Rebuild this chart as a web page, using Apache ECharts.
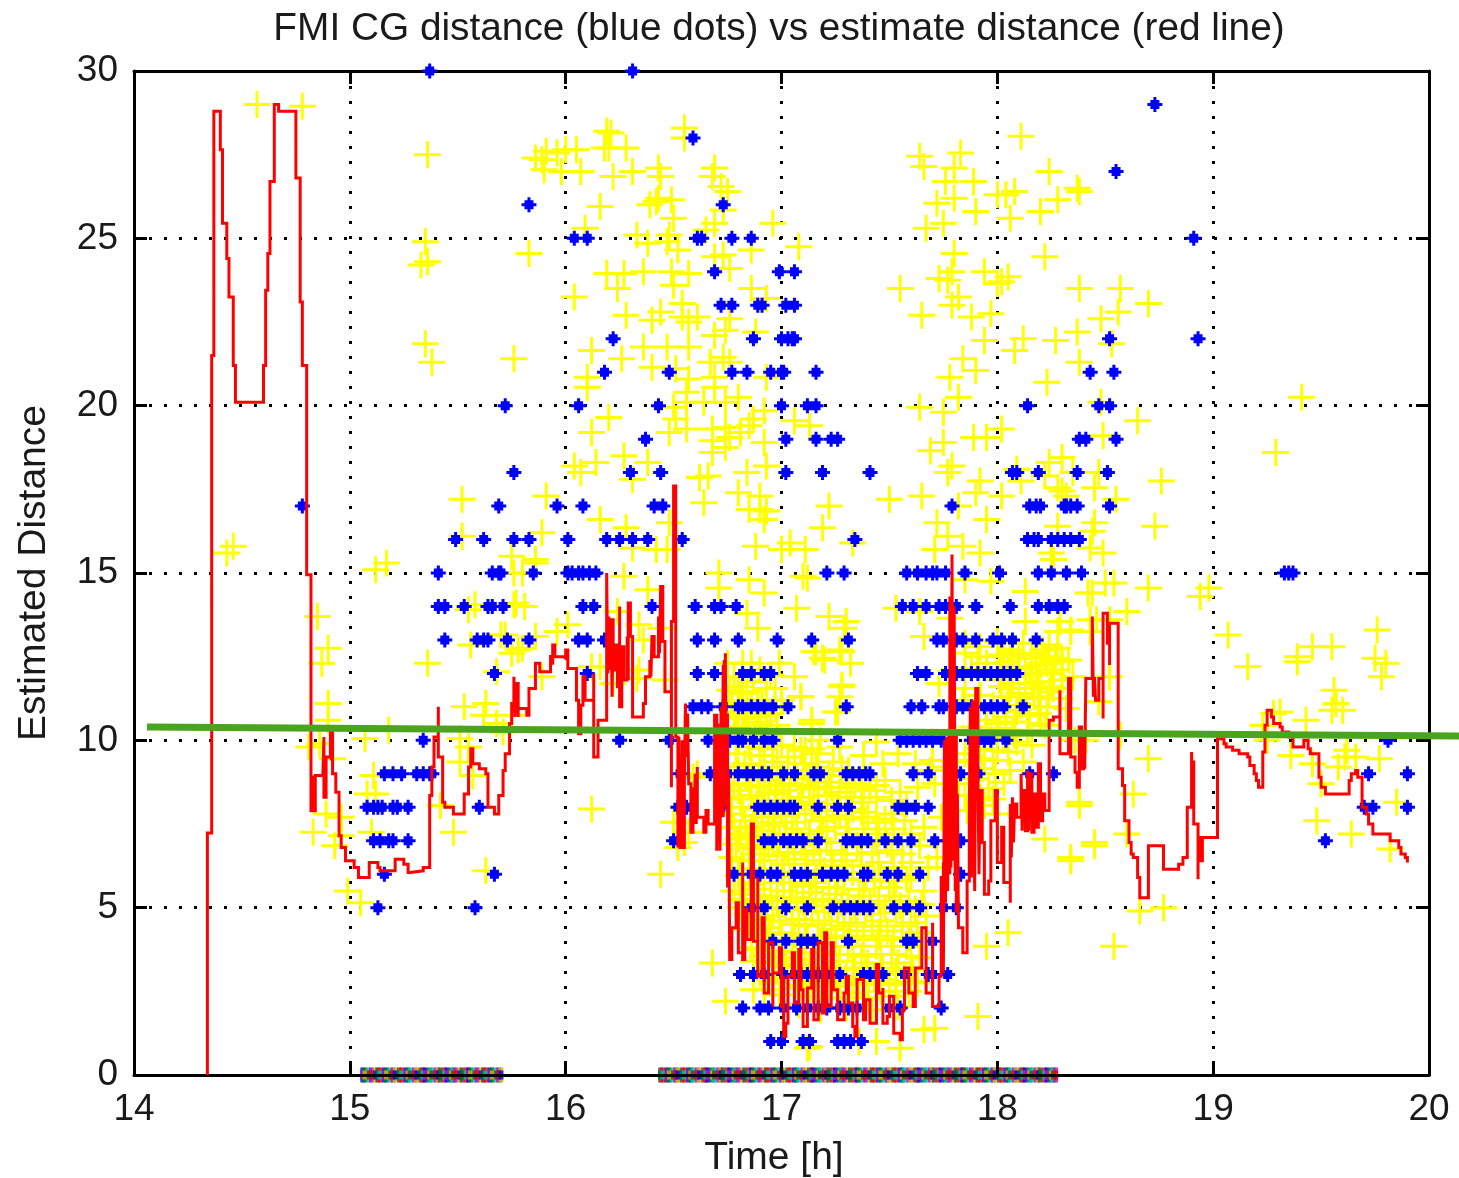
<!DOCTYPE html>
<html>
<head>
<meta charset="utf-8">
<style>html,body{margin:0;background:#fff}#chart{width:1459px;height:1178px}</style>
<script src="https://cdn.jsdelivr.net/npm/echarts@6/dist/echarts.min.js"></script>
</head>
<body>
<div id="chart"></div>
<script>
// estimate distance, in time order
const estimate = [[14.34,0],[14.34,7.23],[14.36,7.23],[14.36,21.5],[14.37,21.5],[14.37,28.8],[14.4,28.8],[14.4,27.65],[14.41,27.65],[14.41,25.45],[14.43,25.45],[14.43,24.4],[14.44,24.4],[14.44,23.25],[14.46,23.25],[14.46,21.2],[14.47,21.2],[14.47,20.1],[14.6,20.1],[14.6,21.2],[14.61,21.2],[14.61,23.45],[14.62,23.45],[14.62,24.55],[14.63,24.55],[14.63,26.7],[14.65,26.7],[14.65,29],[14.67,28.8],[14.75,28.8],[14.75,26.8],[14.77,26.8],[14.77,23.1],[14.78,23.1],[14.78,21.2],[14.8,21.2],[14.8,14.95],[14.82,14.95],[14.82,7.85],[14.825,8.95],[14.83,7.85],[14.835,8.95],[14.84,7.85],[14.84,8.95],[14.875,9],[14.88,10.1],[14.88,8.3],[14.89,9.5],[14.91,10.3],[14.915,9.4],[14.92,10.3],[14.92,9],[14.935,8.45],[14.95,7.15],[14.96,6.8],[14.98,6.4],[15.02,6.2],[15.04,5.9],[15.09,5.9],[15.09,6.35],[15.13,6.2],[15.14,6.1],[15.2,6.1],[15.21,6.45],[15.25,6.3],[15.27,6.05],[15.28,6.1],[15.34,6.2],[15.37,6.35],[15.37,8.35],[15.38,9.2],[15.39,10.1],[15.41,11],[15.41,9.5],[15.43,9.5],[15.43,8.15],[15.44,8],[15.48,7.8],[15.51,7.8],[15.53,8.4],[15.55,8.5],[15.55,9.2],[15.56,9.75],[15.57,9.3],[15.6,9.15],[15.63,9],[15.64,8.4],[15.64,8],[15.66,8],[15.67,7.8],[15.69,7.8],[15.69,8.35],[15.71,9.1],[15.72,9.6],[15.74,10.5],[15.75,11.1],[15.76,11.9],[15.765,10.7],[15.77,11.7],[15.78,10.7],[15.78,10.95],[15.81,10.95],[15.82,10.75],[15.83,11.55],[15.86,11.6],[15.86,12.3],[15.88,12.05],[15.92,12.05],[15.93,12.55],[15.93,12.3],[15.94,12.85],[15.95,12.5],[15.99,12.45],[16,12.7],[16.01,12.15],[16.04,12.15],[16.05,11.2],[16.06,10.2],[16.07,11.05],[16.08,11.9],[16.09,11.2],[16.13,10.6],[16.13,12],[16.13,9.5],[16.15,9.5],[16.15,10.6],[16.19,10.75],[16.19,15],[16.195,12],[16.2,13.7],[16.205,12.1],[16.21,13.65],[16.215,11.3],[16.22,13.65],[16.22,12.1],[16.23,12.85],[16.24,11.6],[16.25,14],[16.25,11],[16.26,12.8],[16.27,11.8],[16.285,13.1],[16.29,11.8],[16.29,14.1],[16.3,13.1],[16.31,11.35],[16.31,10.7],[16.36,10.7],[16.36,11.1],[16.37,11.9],[16.39,12.4],[16.395,11.9],[16.4,13.1],[16.41,12.5],[16.43,13.7],[16.435,12.6],[16.44,14.6],[16.45,12.95],[16.46,11.45],[16.48,11.45],[16.49,8.6],[16.49,13.55],[16.5,17.6],[16.51,13.6],[16.51,10.1],[16.52,6.8],[16.525,10.1],[16.53,6.8],[16.54,10],[16.54,6.8],[16.55,8.9],[16.555,11.1],[16.56,9.5],[16.565,10.8],[16.57,8.7],[16.58,7.25],[16.59,8.6],[16.595,7.5],[16.6,9],[16.605,7.5],[16.61,9.2],[16.61,7.7],[16.64,7.25],[16.65,7.9],[16.66,7.5],[16.69,8],[16.69,10.75],[16.7,6.7],[16.705,10.5],[16.71,8.5],[16.715,6.7],[16.72,11],[16.725,8],[16.73,12.25],[16.73,7.7],[16.735,12.4],[16.74,8],[16.74,12.6],[16.745,8.5],[16.75,10.8],[16.75,5.6],[16.755,9],[16.76,3.45],[16.77,4.4],[16.79,5.15],[16.8,3.65],[16.82,6.35],[16.82,3.45],[16.83,4.95],[16.84,4.05],[16.86,7.5],[16.87,6.5],[16.87,4],[16.89,5.9],[16.89,2.95],[16.91,4.7],[16.92,2.45],[16.94,3.95],[16.96,2.05],[16.96,3.05],[16.99,3.8],[17,2.05],[17.01,2.95],[17.01,1.15],[17.02,1.55],[17.03,2.95],[17.05,3.65],[17.06,2.15],[17.08,3.75],[17.09,2.55],[17.1,1.45],[17.12,2.6],[17.14,3.75],[17.15,1.65],[17.17,3.95],[17.19,1.85],[17.2,4.25],[17.21,2.05],[17.23,3.95],[17.24,2.55],[17.26,1.65],[17.28,1.65],[17.29,2.45],[17.3,2.95],[17.31,2.15],[17.33,1.45],[17.34,1.15],[17.35,2.85],[17.38,1.65],[17.39,2.25],[17.41,1.55],[17.44,3.3],[17.45,2.45],[17.47,2.6],[17.47,1.55],[17.49,1.75],[17.5,2.35],[17.52,1.25],[17.55,1.05],[17.56,1.95],[17.57,3.2],[17.59,2.45],[17.61,2.05],[17.62,3.2],[17.65,4.4],[17.67,2.45],[17.7,4.55],[17.7,2.05],[17.73,2.95],[17.74,5.9],[17.75,6.35],[17.75,3.05],[17.755,10],[17.76,5.15],[17.765,10.1],[17.77,5.5],[17.775,10.2],[17.78,6],[17.78,14.3],[17.785,6.2],[17.79,15.55],[17.795,6.4],[17.8,14],[17.805,5.5],[17.81,10.3],[17.81,4.85],[17.815,8.4],[17.82,4.4],[17.84,3.65],[17.86,5.8],[17.87,7.7],[17.875,11],[17.88,5.9],[17.885,11.2],[17.89,9.4],[17.895,5.5],[17.9,11.55],[17.91,9],[17.915,6],[17.92,8.5],[17.93,6.95],[17.94,5.4],[17.96,5.8],[17.97,7.6],[17.99,8.5],[18,6.35],[18.02,7.4],[18.03,5.75],[18.06,5.15],[18.06,8.1],[18.065,6.5],[18.07,8.3],[18.075,6.95],[18.08,8.1],[18.09,7.7],[18.11,9],[18.115,7.3],[18.12,8.5],[18.13,7.3],[18.14,9.1],[18.145,7.3],[18.15,9],[18.16,7.25],[18.17,8.4],[18.18,7.4],[18.19,9.3],[18.2,7.6],[18.21,8.4],[18.22,7.9],[18.24,7.9],[18.24,10.6],[18.26,10.7],[18.29,11.5],[18.29,9.6],[18.33,11.85],[18.34,9.5],[18.36,9.05],[18.37,8.6],[18.38,10.4],[18.39,9.15],[18.4,10.3],[18.405,9.15],[18.41,11.85],[18.44,13.7],[18.445,11.3],[18.45,11.9],[18.455,11.2],[18.47,11.85],[18.49,10.65],[18.49,13.8],[18.51,13.8],[18.51,12.9],[18.52,12.25],[18.52,13.5],[18.56,13.5],[18.56,9.75],[18.56,9.15],[18.58,8.65],[18.59,7.6],[18.61,6.95],[18.62,6.6],[18.63,6.5],[18.65,5.9],[18.66,5.3],[18.7,5.3],[18.7,6.85],[18.76,6.85],[18.77,6.4],[18.77,6.15],[18.83,6.15],[18.84,6.3],[18.86,6.5],[18.88,6.5],[18.88,8],[18.9,9.65],[18.905,8],[18.91,9.4],[18.91,7.5],[18.93,5.85],[18.93,7.1],[18.94,6.4],[18.95,7.1],[19.02,7.1],[19.02,10.05],[19.05,9.9],[19.06,9.8],[19.09,9.7],[19.12,9.6],[19.16,9.5],[19.17,9.25],[19.19,9],[19.2,8.8],[19.21,8.6],[19.23,9],[19.23,9.65],[19.24,10.45],[19.25,10.9],[19.27,10.7],[19.28,10.5],[19.31,10.4],[19.32,10.25],[19.35,10.1],[19.37,9.8],[19.42,9.8],[19.42,10],[19.44,9.75],[19.45,9.6],[19.48,9.6],[19.49,9.4],[19.49,8.9],[19.5,8.6],[19.52,8.4],[19.62,8.4],[19.63,8.8],[19.64,9],[19.66,9.1],[19.67,8.9],[19.69,8.35],[19.69,8],[19.71,7.8],[19.72,7.5],[19.74,7.2],[19.81,7.2],[19.82,7],[19.85,7],[19.86,6.8],[19.87,6.6],[19.89,6.5],[19.9,6.35]];

const trend = [[14.06,10.4],[20.14,10.13]];

// FMI CG distance is whole metres, one list of times per distance
const fmi1 = [16.95,17,17.1,17.13,17.26,17.29,17.32,17.37];
const fmi2 = [16.82,16.9,16.94,17.01,17.07,17.12,17.17,17.21,17.27,17.31,17.35,17.5,17.55,17.74];
const fmi3 = [16.81,16.87,16.92,17.01,17.06,17.09,17.12,17.17,17.21,17.27,17.38,17.41,17.44,17.47,17.57,17.68,17.7,17.77];
const fmi4 = [16.96,17.02,17.09,17.12,17.15,17.31,17.58,17.61,17.7];
const fmi5 = [15.13,15.58,16.86,16.92,17.02,17.12,17.24,17.29,17.32,17.35,17.38,17.41,17.52,17.58,17.64,17.75,17.81];
const fmi6 = [15.16,15.67,16.78,16.86,16.9,16.95,16.98,17.06,17.09,17.12,17.19,17.23,17.26,17.29,17.38,17.4,17.49,17.54,17.64,17.83];
const fmi7 = [15.11,15.14,15.18,15.2,15.27,16.5,16.92,16.96,17.01,17.04,17.07,17.1,17.17,17.3,17.33,17.37,17.4,17.48,17.54,17.6,17.71,17.77,17.83,19.52];
const fmi8 = [15.08,15.11,15.13,15.15,15.2,15.22,15.27,15.6,16.52,16.56,16.72,16.89,16.92,16.95,16.98,17.01,17.04,17.06,17.17,17.26,17.31,17.54,17.58,17.62,17.68,19.7,19.74,19.9];
const fmi9 = [15.16,15.2,15.24,15.31,15.34,15.37,15.38,16.53,16.67,16.75,16.8,16.84,16.87,16.91,16.94,17.01,17.06,17.15,17.18,17.3,17.33,17.36,17.39,17.41,17.61,17.68,17.83,17.91,18.15,18.26,19.72,19.9];
const fmi10 = [15.34,16.25,16.48,16.66,16.72,16.76,16.8,16.82,16.87,16.92,16.96,17.26,17.55,17.58,17.61,17.64,17.67,17.7,17.74,17.88,17.91,17.94,17.97,18.04,19.81];
const fmi11 = [16.59,16.63,16.66,16.73,16.8,16.82,16.86,16.89,16.92,16.96,17.03,17.3,17.6,17.65,17.73,17.75,17.81,17.84,17.88,17.94,17.97,18,18.03,18.12];
const fmi12 = [15.67,16.1,16.61,16.69,16.82,16.86,16.92,16.95,17.63,17.67,17.76,17.81,17.84,17.88,17.91,17.94,17.97,18,18.03,18.06,18.09];
const fmi13 = [15.44,15.59,15.62,15.64,15.73,15.83,16.06,16.1,16.18,16.61,16.69,16.8,16.98,17.14,17.31,17.72,17.75,17.81,17.84,17.9,17.98,18.02,18.07,18.18];
const fmi14 = [15.41,15.44,15.53,15.64,15.66,15.71,16.08,16.13,16.4,16.6,16.69,16.72,16.79,17.56,17.61,17.67,17.73,17.76,17.81,17.9,18.06,18.19,18.24,18.28,18.31];
const fmi15 = [15.41,15.66,15.69,15.7,15.85,16.01,16.03,16.06,16.08,16.11,16.14,17.21,17.29,17.58,17.63,17.67,17.7,17.72,17.76,17.85,18.01,18.19,18.25,18.32,18.39,19.33,19.35,19.37];
const fmi16 = [15.49,15.62,15.76,15.83,16.01,16.19,16.25,16.31,16.38,16.54,17.34,18.14,18.17,18.19,18.25,18.28,18.31,18.34,18.38];
const fmi17 = [14.78,15.69,15.96,16.08,16.41,16.45,17.79,18.15,18.18,18.2,18.31,18.32,18.34,18.37,18.52];
const fmi18 = [15.76,16.3,16.44,17.02,17.19,17.41,18.07,18.09,18.19,18.37,18.51];
const fmi19 = [16.37,17.02,17.16,17.23,17.26,18.38,18.41,18.55];
const fmi20 = [15.72,16.06,16.43,17,17.12,17.16,18.14,18.47,18.52];
const fmi21 = [16.18,16.48,16.77,16.84,16.95,17,17.01,17.16,18.43,18.54];
const fmi22 = [16.22,16.87,17,17.03,17.05,17.06,18.52,18.93];
const fmi23 = [16.72,16.77,16.89,16.91,17.02,17.06];
const fmi24 = [16.69,16.99,17.06];
const fmi25 = [16.04,16.1,16.61,16.63,16.77,16.86,18.91];
const fmi26 = [15.83,16.73];
const fmi27 = [18.55];
const fmi28 = [16.59];
const fmi29 = [18.73];
const fmi30 = [15.37,16.31];
const fmiRows = [fmi1,fmi2,fmi3,fmi4,fmi5,fmi6,fmi7,fmi8,fmi9,fmi10,fmi11,fmi12,fmi13,fmi14,fmi15,fmi16,fmi17,fmi18,fmi19,fmi20,fmi21,fmi22,fmi23,fmi24,fmi25,fmi26,fmi27,fmi28,fmi29,fmi30];

// yellow crosses, read region by region
const crossesLeft = [[14.57,29],[14.78,28.95],[15.36,27.5],[15.35,24.9],[15.33,24.2],[15.36,24.3],[15.35,21.85],[15.38,21.3],[15.83,24.55],[15.76,21.4],[15.86,27.4],[15.89,27.35],[15.91,27.6],[15.9,27.05],[14.43,15.6],[14.46,15.8],[15.52,17.2],[15.52,16.1],[15.91,17.3],[15.89,16.2],[15.75,15.5],[15.86,15.4],[15.17,15.3],[15.12,15.1],[15.76,15],[15.8,15],[15.86,15.3],[15.58,14.05],[15.55,13.9],[15.76,14.05],[15.77,14.1],[15.81,14],[15.56,12.85],[15.7,13.15],[15.72,13.15],[15.78,12.7],[15.8,12.75],[15.75,12.6],[15.86,13.1],[15.36,12.3],[15.68,12.05],[14.9,12.75],[14.87,12.3],[14.85,13.7],[14.9,11.1],[14.9,10.6],[15.53,11],[15.63,11.1],[15.62,10.75],[15.68,10.5],[15.71,10.25],[15.75,10.75],[15.89,11.9],[15.07,10.05],[15.18,10.3],[15.51,10.05],[15.55,9.8],[15.51,9.35],[15.57,8.95],[14.81,9.8],[14.86,9.9],[14.92,9.45],[15.11,8.95],[15.08,8.4],[15.12,8.4],[14.89,7.8],[14.96,7.7],[14.83,7.25],[14.96,7.15],[14.93,6.85],[15.42,8.05],[15.48,7.25],[15.1,7.25],[15.63,6.1],[14.99,5.5],[15.05,5.15]];
const crossesUpperMid = [[16.19,28.2],[16.21,28.15],[16.2,27.7],[16.18,27.7],[16.28,27.7],[16.55,28.3],[16.55,28],[16,27.65],[16.05,27.65],[15.96,27.55],[15.98,27],[16.07,27],[16.22,26.85],[16.31,27],[16.43,27.1],[16.44,26.85],[16.69,27.1],[16.68,26.85],[16.72,26.55],[16.75,26.4],[16.16,25.95],[16.09,25.3],[16.33,25.1],[16.38,24.85],[16.43,26.2],[16.42,26.1],[16.39,26],[16.49,26.15],[16.5,25.6],[16.48,25.1],[16.47,24.9],[16.52,24.65],[16.65,25.25],[16.69,25.45],[16.73,25.85],[16.73,24.5],[16.69,24.45],[16.76,24.1],[16.86,24.65],[16.96,25.45],[17.08,24.75],[16.19,23.95],[16.27,23.95],[16.24,23.5],[16.36,24],[16.49,24],[16.57,23.95],[16.5,23.6],[16.04,23.25],[16.86,23.5],[16.93,23.2],[16.54,23.05],[16.54,22.65],[16.61,22.65],[16.57,22.5],[16.28,22.7],[16.4,22.55],[16.44,22.8],[16.76,22.6],[16.74,22.25],[16.69,22.1],[16.88,22.2],[16.36,21.75],[16.47,21.75],[16.57,21.75],[16.12,21.65],[16.26,21.4],[16.4,21.15],[16.51,21.1],[16.67,21.3],[16.73,21.45],[16.76,21.3],[16.93,20.85],[16.1,20.85],[16.1,20.55],[16.57,20.8],[16.69,20.85],[16.56,20.4],[16.69,20.55],[16.8,20.25],[16.2,19.65],[16.5,19.95],[16.56,20.1],[16.64,20.1],[16.74,20.1],[16.92,19.85],[16.87,19.6],[16.51,19.6],[16.12,19.2],[16.48,19.2],[16.56,19.3],[16.68,19.3],[16.68,18.95],[16.74,19.35],[16.76,19.05],[16.81,19.2],[16.85,19.4],[17.06,19.55],[17.13,19.4],[16.92,18.9],[16.27,18.5],[16.04,18.2],[16.07,18],[16.14,18.3],[16.38,18.3],[16.68,18.6],[16.74,18.75],[16.66,17.9],[16.62,17.85],[16.93,18.2],[16.84,18],[16.31,17.8],[16.8,17.4],[16.9,17.3],[16.9,16.9],[16.85,16.9],[16.93,16.85],[16.92,16.6],[16.64,17.1],[17.22,17],[17.5,17.2],[17.65,17.3],[16.16,16.6],[16.28,16.35],[16.48,16.5],[16.31,15.75],[16.42,15.7],[16.47,15.7],[16.88,15.8],[17.04,15.9],[17.19,16.35],[17.33,15.9],[17,15.7],[17.11,15.7]];
const crossesUpperRight = [[17.64,27.45],[17.66,27.15],[17.83,27.55],[17.8,27.1],[17.76,26.7],[17.89,26.7],[17.72,26.05],[17.8,26.2],[17.75,25.45],[17.67,25.3],[17.9,25.8],[18,26.3],[17.8,24.55],[17.79,24],[17.73,23.8],[17.77,23.75],[17.94,24],[18,23.65],[17.55,23.5],[17.82,23.25],[17.79,23],[17.65,22.7],[17.88,22.65],[17.97,22.75],[17.94,21.95],[17.84,21.4],[17.9,21.05],[17.78,20.85],[17.82,20.25],[17.64,19.95],[17.75,19.8],[17.75,18.9],[17.69,18.65],[17.89,19.05],[17.95,19.05],[17.77,18],[17.79,18.2],[17.92,17.75],[17.82,17],[17.9,17.4],[17.95,16.6],[17.72,16.5],[17.77,16.1],[17.92,15.6],[17.84,15.8],[17.71,15.7],[18.11,28.05],[18.24,27],[18.37,26.5],[18.38,26.4],[18.04,26.3],[18.08,26.4],[18.28,26.15],[18.2,25.8],[18.06,25.6],[18.22,24.45],[18.05,23.85],[18.02,23.7],[18.38,23.5],[18.57,23.5],[18.7,23.05],[18.56,22.8],[18.48,22.6],[18.12,22],[18.37,22.2],[18.27,21.95],[18.08,21.65],[18.53,21.85],[18.38,21.3],[18.23,20.7],[18.48,20.1],[18.65,19.55],[18.49,19.1],[18.02,19.3],[18.3,18.45],[18.24,18.3],[18.09,18.1],[18.22,17.9],[18.47,18],[18.35,18],[18.11,17.75],[18.28,17.55],[18.3,17.45],[18.45,17.55],[18.76,17.75],[18.02,17.3],[18.32,17.3],[18.55,17.2],[18.28,16.4],[18.45,16.5],[18.73,16.4],[18.44,16.25],[18.43,15.75],[18.49,15.6],[18.25,15.6],[18.26,15.4],[19.41,20.25],[19.29,18.6]];
const crossesLowerRight = [[18.98,14.55],[18.94,14.3],[18.7,14.55],[18.54,14.7],[18.6,13.85],[19.07,13.15],[19.16,12.2],[19.46,12.8],[19.55,12.8],[19.39,12.5],[19.39,12.35],[19.76,13.3],[19.75,12.45],[19.8,12.3],[19.78,11.9],[19.56,11.5],[19.57,11.1],[19.55,10.9],[19.6,10.9],[19.31,10.85],[19.28,10.8],[19.23,10.45],[19.43,10.6],[19.25,10],[19.36,9.55],[19.46,9.3],[19.62,9.7],[19.61,9.5],[19.66,9.5],[19.77,9.45],[19.58,9.2],[19.5,8.7],[19.48,7.6],[19.85,8.15],[19.64,7.2],[19.82,6.75],[18.7,9.45],[18.63,8.4],[18.38,8.05],[18.6,7.2],[18.45,6.85],[18.34,6.4],[18.66,4.9],[18.77,5],[18.54,3.85],[18.5,14.7],[18.44,14.4],[18.42,14.4],[18.43,13.6],[18.46,13.6],[18.52,13.6],[18.28,13.25],[18.34,13.25],[18.43,13.25],[18.27,12.45],[18.3,12.35],[18.35,11.9],[18.52,11.9],[18.25,11.6],[18.47,11.15],[18.32,10.95],[18.36,10],[18.41,10],[18.57,10.15],[18.13,14.45],[17.85,14.8],[17.97,14.75],[17.12,14.85],[17.22,13.7],[17.3,13.55],[17.29,13.35],[17.53,13.95],[17.64,13.85],[17.78,13.65],[18.13,13.55],[18.29,13.55],[18.34,13.3],[17.66,13.1],[17.91,12.5],[17.85,12.6],[18.07,12.6],[18.22,12.5],[17.19,12.45],[17.27,12.7],[17.32,12.3],[17.15,12.65],[17.28,11.6],[17.73,11.7],[17.85,11.55],[18.07,11.7],[18.16,11.7],[18.25,12],[18.3,12.4],[17.14,10.6],[17.26,10.85],[17.09,11.3],[17.44,9.95],[18.07,10.25],[18,10.5],[18.04,10.7],[18.19,10.8],[18.38,8.15],[18.22,7.05],[18.34,6.5],[18.45,6.95],[17.95,3.85],[18.05,4.25],[17.91,1.75],[17.71,1.4],[17.66,1.35],[17.44,1],[17.55,0.8],[17.36,1],[17.13,0.85]];
const crossesMid = [[16.12,7.95],[16.44,6],[16.74,2.2],[16.68,3.35],[16.87,2.55],[17.12,0.8],[16.52,6.8],[16.55,6.95],[16.5,7.55],[16.57,7.25],[16.61,9],[16.59,8.9],[16.71,15],[16.85,14.8],[16.92,14.4],[16.71,14.55],[16.27,14.9],[16.38,14.5],[16.01,13.45],[15.96,13.25],[16.34,13.45],[16.36,13],[16.44,13.35],[16.24,13.85],[16.16,12.2],[16.12,12.2],[16.34,12.1],[16.22,11.7],[16.33,11.85],[16.46,11.8],[16.86,12.3],[16.99,12.3],[16.75,12.3],[17.06,11.9],[16.93,11.55],[16.8,11.6],[17.07,13.95],[16.89,13.35],[16.84,13.8],[17.1,14.9],[17.28,12.65],[17.2,12.4],[17.16,12.65],[17.28,11.65],[17.09,11.3],[17.27,11.3],[17.25,10.85],[17.14,10.5],[17.11,9.7],[17.09,9.7],[17.18,10],[17.27,9.8]];
const crossesCore = [[16.79,10.4],[16.85,10.1],[16.93,10.2],[16.79,9.6],[16.83,9.3],[16.9,9.55],[16.96,9.2],[17.03,9.5],[17.1,9.3],[17.17,9.6],[17.24,9.35],[17.31,9.1],[17.38,9.55],[17.47,9.3],[17.54,9.6],[17.62,9.3],[17.69,9.1],[16.78,8.7],[16.84,8.9],[16.89,8.6],[16.95,8.8],[17.01,8.5],[17.07,8.85],[17.13,8.55],[17.2,8.75],[17.27,8.45],[17.34,8.7],[17.41,8.5],[17.48,8.8],[17.55,8.45],[17.63,8.6],[17.71,8.7],[16.77,7.8],[16.83,7.6],[16.88,7.95],[16.94,7.7],[17,7.9],[17.05,7.55],[17.11,7.8],[17.18,7.6],[17.24,7.9],[17.3,7.65],[17.37,7.85],[17.44,7.55],[17.51,7.8],[17.57,7.6],[17.66,7.4],[17.74,7.7],[16.79,6.9],[16.84,7.1],[16.9,6.75],[16.96,6.95],[17.03,6.65],[17.09,6.9],[17.15,6.7],[17.21,6.95],[17.28,6.6],[17.35,6.85],[17.42,6.65],[17.49,6.9],[17.56,6.6],[17.64,6.85],[17.72,6.5],[16.8,5.95],[16.86,5.7],[16.92,6.05],[16.98,5.75],[17.04,5.95],[17.1,5.65],[17.16,5.9],[17.22,5.6],[17.29,5.85],[17.36,5.55],[17.43,5.8],[17.5,5.6],[17.58,5.85],[17.66,5.5],[16.84,4.8],[16.9,5.05],[16.96,4.75],[17.02,4.95],[17.08,4.65],[17.14,4.9],[17.2,4.6],[17.26,4.85],[17.32,4.55],[17.39,4.8],[17.46,4.6],[17.53,4.85],[17.6,4.55],[17.67,4.75],[16.86,3.8],[16.93,4.05],[16.99,3.7],[17.05,3.95],[17.11,3.65],[17.18,3.9],[17.24,3.6],[17.31,3.85],[17.37,3.55],[17.44,3.85],[17.51,3.6],[17.58,3.85],[17.64,3.5],[16.9,3],[16.96,2.75],[17.03,3.05],[17.1,2.7],[17.16,2.95],[17.23,2.65],[17.3,2.95],[17.36,2.7],[17.43,2.95],[17.5,2.7],[17.57,3],[17.63,2.75],[16.78,11.9],[16.82,11.4],[16.87,11.75],[16.91,11.2],[16.97,11.55],[16.8,10.85],[16.86,11.1],[16.95,10.8],[17,11.2],[17.85,12.9],[17.92,12.8],[18,12.95],[18.06,12.7],[18.12,12.9],[18.18,12.6],[18.24,12.85],[17.8,12.1],[17.88,12.15],[17.95,12.3],[18.02,12.05],[18.09,12.2],[18.15,11.95],[18.2,12.25],[18.26,12.1],[17.84,11.2],[17.92,11.35],[17.98,11.05],[18.05,11.3],[18.11,11.05],[18.17,11.3],[18.23,11],[18.29,11.25],[17.88,10.4],[17.95,10.6],[18.01,10.35],[18.08,10.55],[18.14,10.3],[18.2,10.5],[17.85,9.6],[17.92,9.75],[17.98,9.4],[18.05,9.65],[18.12,9.35],[17.82,8.7],[17.9,8.85],[17.96,8.55],[18.03,8.75],[17.86,7.9],[17.94,8.05],[18,7.8]];
// saturated part of the cloud, the crosses run together here so these are estimates
const crossesSolid = [[16.76,11.5],[16.81,11.15],[16.84,11.45],[16.89,11.1],[16.93,10.75],[16.78,10.7],[16.83,10.65],[16.88,10.7],[16.98,10.45],[16.75,9.2],[16.8,9.1],[16.86,9.25],[16.92,9],[16.98,9.35],[17,8.95],[17.06,9.1],[17.12,8.95],[17.16,9.2],[17.22,8.95],[17.28,9.15],[16.76,8.3],[16.81,8.25],[16.86,8.35],[16.92,8.2],[16.97,8.4],[17.03,8.2],[17.09,8.3],[17.15,8.15],[17.21,8.35],[17.26,8.1],[17.32,8.3],[17.38,8.15],[17.44,8.3],[17.51,8.2],[17.58,8.1],[16.78,7.4],[16.81,7.2],[16.86,7.4],[16.91,7.3],[16.97,7.45],[17.02,7.2],[17.07,7.35],[17.13,7.2],[17.19,7.3],[17.25,7.4],[17.31,7.2],[17.38,7.35],[17.45,7.2],[17.52,7.35],[17.6,7.2],[16.77,6.5],[16.82,6.4],[16.87,6.6],[16.92,6.4],[16.98,6.55],[17.01,6.3],[17.06,6.45],[17.12,6.3],[17.18,6.4],[17.24,6.25],[17.3,6.4],[17.37,6.25],[17.45,6.35],[17.52,6.2],[17.6,6.35],[17.68,6.2],[16.78,5.5],[16.83,5.4],[16.89,5.55],[16.95,5.35],[17.01,5.5],[17.07,5.3],[17.13,5.45],[17.19,5.25],[17.25,5.4],[17.31,5.2],[17.38,5.35],[17.45,5.2],[17.52,5.35],[17.59,5.2],[17.65,5.1],[16.81,5],[16.87,4.95],[16.93,5],[16.99,4.6],[17.05,4.5],[17.11,4.45],[17.17,4.5],[17.23,4.35],[17.29,4.45],[17.35,4.3],[17.42,4.45],[17.49,4.3],[17.56,4.45],[17.63,4.25],[16.83,4.35],[16.88,4.4],[16.94,4.4],[16.87,3.4],[16.91,3.55],[16.97,3.35],[17.02,3.5],[17.08,3.3],[17.14,3.45],[17.2,3.25],[17.27,3.4],[17.34,3.2],[17.4,3.35],[17.47,3.2],[17.54,3.35],[17.61,3.15],[16.92,2.55],[16.99,2.4],[17.06,2.6],[17.13,2.35],[17.2,2.5],[17.27,2.3],[17.33,2.45],[17.4,2.3],[17.46,2.5],[17.53,2.35],[17.59,2.5],[17.08,2.1],[17.18,1.95],[17.3,2],[17.42,1.95],[17.54,2.05],[18.02,11.6],[18.07,11.9],[18.13,11.55],[18.19,11.75],[18.24,11.45],[18.3,11.8],[18.03,12.5],[18.1,12.55],[18.16,12.45],[18.21,12.7],[18.04,10.9],[18.09,10.85],[18.15,10.75],[18.22,10.45],[17.97,10.05],[18.03,10],[18.09,9.95],[18.16,9.85],[17.87,9],[17.93,9.15],[17.99,9],[18.06,9.1]];
const crossesDeep = [[16.8,8.5],[16.85,8.65],[16.9,8.8],[16.94,8.45],[16.98,8.65],[17.04,8.7],[17.1,8.65],[17.17,8.6],[17.23,8.6],[17.3,8.6],[17.37,8.6],[17.44,8.65],[16.82,8],[16.87,7.75],[16.91,8.05],[16.96,7.55],[17.02,7.75],[17.08,8.05],[17.14,7.95],[17.21,7.7],[17.27,7.75],[17.33,7.95],[17.4,7.7],[17.48,7.65],[16.8,7.05],[16.85,6.8],[16.89,7.15],[16.94,6.85],[16.99,7.05],[17.05,7.05],[17.11,6.6],[17.17,7.05],[17.23,6.7],[17.3,6.95],[17.37,6.6],[17.44,6.95],[17.51,6.7],[16.81,6.15],[16.85,6],[16.9,6.15],[16.95,6.05],[17,6.05],[17.05,5.75],[17.11,6.05],[17.14,5.75],[17.2,6.1],[17.26,5.85],[17.33,6.05],[17.39,5.85],[17.46,6],[17.53,5.8],[17.6,5.95],[16.81,5.25],[16.86,5.2],[16.92,5.3],[16.98,5.2],[17.04,5.2],[17.1,5.15],[17.16,5.2],[17.22,5.05],[17.28,5.15],[17.34,5],[17.41,5.1],[17.48,5],[17.55,5.05],[17.62,4.95],[16.85,4.55],[16.91,4.65],[16.95,4.2],[17,4.25],[17.06,4.2],[17.12,4.15],[17.19,4.15],[17.25,4.1],[17.31,4.15],[17.38,4.05],[17.45,4.15],[17.52,4.05],[17.59,4.1],[16.89,3.75],[16.95,3.7],[17.01,3.25],[17.07,3.65],[17.13,3.2],[17.2,3.65],[17.26,3.15],[17.33,3.6],[17.39,3.1],[17.46,3.6],[17.53,3.1],[17.6,3.55],[16.94,2.85],[17,2.95],[17.07,2.85],[17.13,2.8],[17.2,2.85],[17.26,2.75],[17.33,2.85],[17.4,2.75],[17.46,2.85],[17.53,2.75],[17.6,2.8],[16.82,10.3],[16.88,10.45],[16.91,10.05],[16.96,9.85],[16.8,9.95],[16.85,9.8],[16.92,9.75],[17,9.85],[17.06,9.8],[17.14,9.75],[16.82,12.3],[16.9,12.1],[16.95,11.95],[16.77,11.1],[16.84,10.9],[16.9,10.55],[16.97,10.95],[17.85,8.35],[17.92,8.3],[17.98,8.25],[17.7,9.4],[17.76,9.2],[17.8,9.35],[17.88,9.4],[17.94,9.45],[18,9.7],[18.08,10.15],[18.14,10.75],[18.2,11.25],[18.26,11.55],[18.33,12.4],[18.01,11.8],[18.06,11.55],[18.1,11.4],[18.13,12.15],[18.18,12],[18.23,12.3],[18.28,12.75],[18.05,12.35],[18.01,12.55]];

// the coloured marks sitting on the time axis
const bandTimes = [15.06,15.07,15.09,15.1,15.12,15.13,15.14,15.16,15.17,15.19,15.2,15.21,15.23,15.24,15.26,15.27,15.28,15.3,15.31,15.33,15.34,15.35,15.37,15.38,15.4,15.41,15.42,15.44,15.45,15.47,15.48,15.49,15.51,15.52,15.54,15.55,15.56,15.58,15.59,15.61,15.62,15.63,15.65,15.66,15.68,15.69,15.7,
16.44,16.45,16.47,16.48,16.5,16.51,16.52,16.54,16.55,16.57,16.58,16.59,16.61,16.62,16.64,16.65,16.66,16.68,16.69,16.71,16.72,16.73,16.75,16.76,16.78,16.79,16.8,16.82,16.83,16.85,16.86,16.87,16.89,16.9,16.92,16.93,16.94,16.96,16.97,16.99,17,17.01,17.03,17.04,17.06,17.07,17.08,17.1,17.11,17.13,17.14,17.15,17.17,17.18,17.2,17.21,17.22,17.24,17.25,17.27,17.28,17.29,17.31,17.32,17.34,17.35,17.36,17.38,17.39,17.41,17.42,17.43,17.45,17.46,17.48,17.49,17.5,17.52,17.53,17.55,17.56,17.57,17.59,17.6,17.62,17.63,17.64,17.66,17.67,17.69,17.7,17.71,17.73,17.74,17.76,17.77,17.78,17.8,17.81,17.83,17.84,17.85,17.87,17.88,17.9,17.91,17.92,17.94,17.95,17.97,17.98,17.99,18.01,18.02,18.04,18.05,18.06,18.08,18.09,18.11,18.12,18.13,18.15,18.16,18.18,18.19,18.2,18.22,18.23,18.25,18.26,18.27];
const bandColors = ['#0000ff','#008000','#00bfbf','#bf00bf','#bfbf00','#404040','#ff0000'];

const fontName = '"Liberation Sans", Arial, sans-serif';
const plusPath = 'path://M-13.5 -1.5H-1.5V-13.5H1.5V-1.5H13.5V1.5H1.5V13.5H-1.5V1.5H-13.5Z';
const dotPath = 'path://M-1.5 -7.5H1.5V-4.5H4.5V-1.5H7.5V1.5H4.5V4.5H1.5V7.5H-1.5V4.5H-4.5V1.5H-7.5V-1.5H-4.5V-4.5H-1.5Z';

let fmiPoints = [];
fmiRows.forEach((row, i) => row.forEach(t => fmiPoints.push([t, i + 1])));
const crossPoints = crossesLeft.concat(crossesUpperMid, crossesUpperRight, crossesLowerRight, crossesMid, crossesCore, crossesSolid, crossesDeep);

const myChart = echarts.init(document.getElementById('chart'), null, { renderer: 'canvas' });

const frameLine = { show: true, onZero: false, lineStyle: { color: '#000', width: 3 } };
const innerTick = { show: true, inside: true, length: 13, lineStyle: { color: '#000', width: 3 } };
const dots = { show: true, showMinLine: false, showMaxLine: false, lineStyle: { color: '#000', width: 3, type: [3, 12] } };
const tickText = { color: '#1a1a1a', fontSize: 37, fontFamily: fontName };
const nameText = { color: '#1a1a1a', fontSize: 39, fontFamily: fontName };

const option = {
  backgroundColor: '#fff',
  animation: false,
  title: {
    text: 'FMI CG distance (blue dots) vs estimate distance (red line)',
    left: 774, top: 5, textAlign: 'center',
    textStyle: { color: '#1a1a1a', fontSize: 38.8, fontWeight: 'normal', fontFamily: fontName }
  },
  grid: [
    { left: 134, right: 30, top: 71, bottom: 103, outerBoundsMode: 'none' },
    { left: 134, right: 0, top: 71, bottom: 103, outerBoundsMode: 'none' }   // trend runs past the frame
  ],
  xAxis: [{
    type: 'value', min: 14, max: 20, interval: 1, z: 1,
    name: 'Time [h]', nameLocation: 'middle', nameGap: 64,
    nameTextStyle: Object.assign({ padding: [0, 15, 0, 0] }, nameText),
    axisLine: frameLine, axisTick: innerTick, splitLine: dots,
    axisLabel: Object.assign({ margin: 16 }, tickText)
  }, {
    type: 'value', position: 'top', min: 14, max: 20, interval: 1, z: 1,
    axisLine: frameLine, axisTick: innerTick, splitLine: { show: false }, axisLabel: { show: false }
  }, {
    type: 'value', gridIndex: 1, min: 14, max: 20.14, show: false
  }],
  yAxis: [{
    type: 'value', min: 0, max: 30, interval: 5, z: 1,
    name: 'Estimated Distance', nameLocation: 'middle', nameGap: 80,
    nameTextStyle: nameText,
    axisLine: frameLine, axisTick: innerTick, splitLine: dots,
    axisLabel: Object.assign({ margin: 16, padding: [9, 0, 0, 0] }, tickText)
  }, {
    type: 'value', position: 'right', min: 0, max: 30, interval: 5, z: 1,
    axisLine: frameLine, axisTick: innerTick, splitLine: { show: false }, axisLabel: { show: false }
  }, {
    type: 'value', gridIndex: 1, min: 0, max: 30, show: false
  }],
  series: [{
    type: 'scatter', name: 'band', z: 0, silent: true, clip: false,
    symbol: 'rect', symbolSize: [5, 15],
    data: bandTimes.map((t, i) => ({ value: [t, 0], itemStyle: { color: bandColors[i % bandColors.length] } }))
  }, {
    type: 'scatter', name: 'band inner', z: 0, silent: true, clip: false,
    symbol: 'rect', symbolSize: [5, 9],
    data: bandTimes.map((t, i) => ({ value: [t, 0], itemStyle: { color: bandColors[(i + 3) % bandColors.length] } }))
  }, {
    type: 'scatter', name: 'crosses', z: 3, silent: true, clip: false,
    symbol: plusPath, symbolSize: 27, itemStyle: { color: '#ffff00', opacity: 1 },
    data: crossPoints
  }, {
    type: 'scatter', name: 'FMI CG', z: 4, silent: true, clip: false,
    symbol: dotPath, symbolSize: 15, itemStyle: { color: '#0000ff', opacity: 1 },
    data: fmiPoints
  }, {
    type: 'line', name: 'estimate', z: 5, silent: true, showSymbol: false, step: 'end',
    lineStyle: { color: '#ff0000', width: 3, join: 'miter' },
    data: estimate
  }, {
    type: 'line', name: 'trend', z: 6, silent: true, showSymbol: false, clip: false,
    xAxisIndex: 2, yAxisIndex: 2,
    lineStyle: { color: '#4aa41e', width: 7, cap: 'butt' },
    data: trend
  }]
};
myChart.setOption(option);
</script>
</body>
</html>
